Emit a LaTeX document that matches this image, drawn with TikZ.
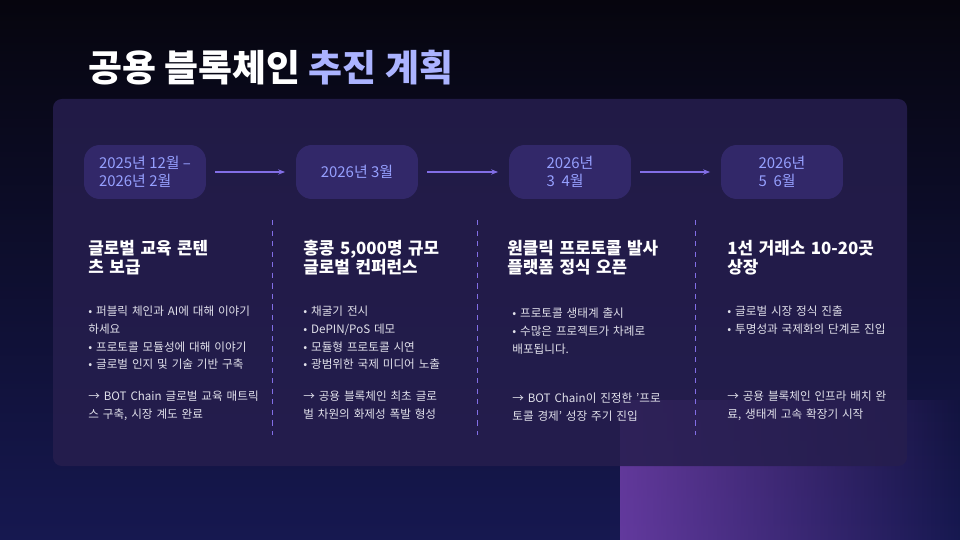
\documentclass[tikz,border=0pt]{standalone}
\usepackage{fontspec}
\setmainfont{Noto Sans CJK KR}
\usetikzlibrary{positioning,arrows.meta,fadings}
\definecolor{bgtop}{RGB}{6,5,14}
\definecolor{bgbot}{RGB}{22,24,80}
\definecolor{panel}{RGB}{38,30,78}
\definecolor{datebox}{RGB}{50,40,105}
\definecolor{dateblue}{RGB}{150,160,255}
\definecolor{lineblue}{RGB}{130,110,230}
\definecolor{glow}{RGB}{150,80,210}
\definecolor{bodytext}{RGB}{225,225,235}
\tikzset{
  date/.style={draw=none, fill=datebox, rounded corners=9pt, minimum width=2.44cm,
    minimum height=1.08cm, text=dateblue, font=\fontsize{8.5}{10.5}\selectfont,
    align=left, inner sep=0pt},
  nextstep/.style={-{Stealth[length=4pt]}, lineblue, thick, shorten <=5pt, shorten >=6pt},
  divider/.style={lineblue, dashed, thin},
  head/.style={anchor=north west, text=white, font=\bfseries\fontsize{9.6}{11}\selectfont,
    align=left, inner sep=0pt, text width=3.7cm},
  body/.style={anchor=north west, text=bodytext, font=\fontsize{6.6}{10}\selectfont,
    align=left, inner sep=0pt, text width=3.6cm}
}
\begin{document}
\begin{tikzpicture}[x=0.02cm,y=-0.02cm]
\useasboundingbox (0,0) rectangle (960,540);

% background
\shade[top color=bgtop, bottom color=bgbot] (0,0) rectangle (960,540);
\fill[glow, opacity=0.6, path fading=east] (620,400) rectangle (960,540);
\fill[panel, opacity=0.85, rounded corners=5pt] (53,99) rectangle (907,466);

% title
\node[anchor=west, inner sep=0pt, text=white, font=\bfseries\fontsize{21}{24}\selectfont]
  (title) at (88,68) {공용 블록체인 {\color{dateblue!80!white}추진 계획}};

% date boxes
\node[date] (d1) at (145,172) {2025년 12월 –\\2026년 2월};
\node[date] (d2) at (357,172) {2026년 3월};
\node[date] (d3) at (570,172) {2026년\\3 \ 4월};
\node[date] (d4) at (782,172) {2026년\\5 \ 6월};
\draw[nextstep] (d1) -- (d2);
\draw[nextstep] (d2) -- (d3);
\draw[nextstep] (d3) -- (d4);

% dividers
\coordinate (v1t) at (272,220); \coordinate (v1b) at (272,435);
\coordinate (v2t) at (477,220); \coordinate (v2b) at (477,435);
\coordinate (v3t) at (695,220); \coordinate (v3b) at (695,435);
\draw[divider] (v1t) -- (v1b);
\draw[divider] (v2t) -- (v2b);
\draw[divider] (v3t) -- (v3b);

% column 1
\node[head] (h1) at (88,240) {글로벌 교육 콘텐\\츠 보급};
\node[body] (b1) at (88,306) {• 퍼블릭 체인과 AI에 대해 이야기\\하세요\\• 프로토콜 모듈성에 대해 이야기\\• 글로벌 인지 및 기술 기반 구축};
\node[body] (c1) at (88,391) {→ BOT Chain 글로벌 교육 매트릭\\스 구축, 시장 계도 완료};

% column 2
\node[head] (h2) at (303,240) {홍콩 5,000명 규모\\글로벌 컨퍼런스};
\node[body] (b2) at (303,306) {• 채굴기 전시\\• DePIN/PoS 데모\\• 모듈형 프로토콜 시연\\• 광범위한 국제 미디어 노출};
\node[body] (c2) at (303,391) {→ 공용 블록체인 최초 글로\\벌 차원의 화제성 폭발 형성};

% column 3
\node[head] (h3) at (507,240) {원클릭 프로토콜 발사\\플랫폼 정식 오픈};
\node[body] (b3) at (512,308) {• 프로토콜 생태계 출시\\• 수많은 프로젝트가 차례로\\배포됩니다.};
\node[body] (c3) at (512,393) {→ BOT Chain이 진정한 '프로\\토콜 경제' 성장 주기 진입};

% column 4
\node[head] (h4) at (727,240) {1선 거래소 10-20곳\\상장};
\node[body] (b4) at (727,306) {• 글로벌 시장 정식 진출\\• 투명성과 국제화의 단계로 진입};
\node[body] (c4) at (727,391) {→ 공용 블록체인 인프라 배치 완\\료, 생태계 고속 확장기 시작};

\end{tikzpicture}
\end{document}
